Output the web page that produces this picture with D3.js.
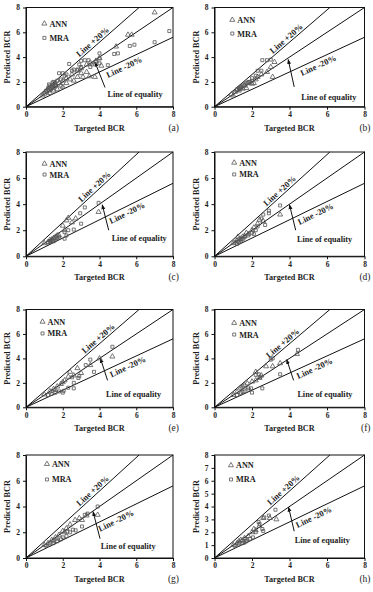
<!DOCTYPE html>
<html>
<head>
<meta charset="utf-8">
<script src="https://cdn.jsdelivr.net/npm/d3@7"></script>
<style>
  body { margin: 0; background: #fff; }
  svg { display: block; }
  text { font-family: "Liberation Serif", "Times New Roman", serif; font-weight: bold; fill: #1c1c1c; }
</style>
</head>
<body>
<div id="chart"></div>
<script>
// ---- data (targeted BCR, predicted BCR) ----
const panelLabels = ["(a)", "(b)", "(c)", "(d)", "(e)", "(f)", "(g)", "(h)"];
const xTicks = [0, 2, 4, 6, 8];
const yTicksEven = [0, 2, 4, 6, 8];
const yTicksAll = [0, 1, 2, 3, 4, 5, 6, 7, 8];
const lineSlopes = [1.3, 1.0, 0.7]; // +20%, equality, -20%
const seriesNames = ["ANN", "MRA"];

const annA = [[7.0,7.6],[5.55,5.8],[5.75,5.8],[4.9,4.85],[4.0,3.9],[3.8,3.7],[3.5,3.55],[3.3,3.4],[3.0,3.1],[2.8,2.9],[2.5,2.6],[2.2,2.3],[2.0,2.1],[1.8,1.9],[1.6,1.7],[1.5,1.6],[1.4,1.5],[1.3,1.4],[1.2,1.3],[1.0,1.05],[0.9,0.9],[2.8,2.4],[3.1,2.4],[3.45,2.45],[3.75,2.4],[3.3,2.8],[2.4,2.2],[2.0,1.6],[1.7,1.4],[1.5,1.3],[1.3,1.1],[2.6,2.1],[4.1,3.3],[1.9,1.7],[1.6,1.8],[2.2,1.9],[3.0,2.7],[1.1,1.2]];
const mraA = [[7.8,6.1],[7.0,5.2],[5.9,5.0],[5.65,4.9],[5.0,4.3],[4.8,4.25],[4.45,3.35],[4.0,4.3],[4.0,3.9],[4.0,3.5],[3.0,3.7],[3.2,3.75],[3.4,3.75],[2.35,3.45],[2.0,2.7],[1.8,2.7],[2.1,2.5],[2.5,2.9],[2.8,3.0],[3.0,3.2],[3.5,3.2],[3.8,3.6],[1.5,2.0],[1.3,1.7],[1.6,1.9],[1.4,1.6],[1.2,1.5],[1.7,2.1],[1.9,2.2],[2.2,2.6],[1.35,1.45],[1.55,1.75],[1.1,1.3],[2.6,3.0],[2.9,3.4],[3.6,3.4],[1.25,1.8],[1.45,1.95]];

const annB = [[0.9,1.0],[1.1,1.2],[1.2,1.35],[1.3,1.3],[1.4,1.5],[1.5,1.45],[1.6,1.7],[1.8,1.9],[2.0,1.85],[2.1,1.9],[2.3,2.4],[2.5,2.6],[2.8,2.8],[3.0,3.2],[3.2,3.6],[3.1,2.4],[1.7,1.5],[2.2,2.2],[1.0,0.9]];
const mraB = [[1.2,1.4],[1.3,1.5],[1.4,1.6],[1.5,1.7],[1.6,1.8],[1.7,1.9],[1.8,2.0],[1.9,2.0],[2.0,2.1],[2.3,2.9],[2.5,2.9],[2.55,3.75],[2.8,3.75],[3.0,3.8],[2.2,2.5],[1.35,1.45],[2.0,2.3]];

const annC = [[1.0,1.0],[1.2,1.1],[1.3,1.25],[1.4,1.3],[1.5,1.4],[1.6,1.5],[1.7,1.6],[1.8,1.6],[2.0,2.35],[2.2,2.75],[2.3,2.95],[2.5,2.6],[2.7,2.9],[3.95,3.4],[1.45,1.15],[2.1,2.0]];
const mraC = [[1.3,1.1],[1.4,1.2],[1.5,1.2],[1.6,1.3],[1.7,1.4],[1.8,1.5],[2.1,1.35],[2.1,1.85],[2.3,2.0],[2.6,2.05],[3.0,2.5],[2.95,3.3],[3.2,3.75],[3.95,4.1],[2.2,1.6],[1.2,1.05]];

const annD = [[1.0,1.0],[1.1,1.05],[1.2,1.2],[1.3,1.3],[1.4,1.35],[1.5,1.5],[1.6,1.55],[1.8,1.7],[2.0,2.0],[2.1,2.2],[2.3,2.5],[2.4,2.8],[2.6,2.7],[3.5,3.2],[1.25,1.5],[1.7,1.8]];
const mraD = [[1.2,0.95],[1.3,1.1],[1.4,1.2],[1.5,1.3],[1.6,1.45],[1.8,1.6],[2.0,1.8],[2.2,2.0],[2.3,2.3],[2.5,2.9],[2.6,3.2],[2.9,3.5],[2.9,3.3],[2.7,2.4],[3.5,3.9],[2.1,1.7]];

const annE = [[1.0,1.05],[1.3,1.3],[1.5,1.5],[1.7,1.7],[1.9,1.9],[2.1,2.2],[2.3,2.5],[2.4,2.9],[2.6,2.6],[2.8,3.2],[3.0,2.8],[3.5,3.45],[4.0,4.0],[4.7,4.15],[1.6,1.4],[2.0,2.05]];
const mraE = [[1.2,1.0],[1.4,1.1],[1.6,1.2],[1.8,1.3],[2.05,1.35],[2.3,1.6],[2.6,1.55],[2.5,2.45],[2.85,2.4],[2.9,2.55],[3.25,3.45],[3.5,3.9],[3.7,2.9],[4.7,4.95],[2.0,1.2],[2.6,2.0]];

const annF = [[1.0,1.0],[1.2,1.25],[1.4,1.6],[1.5,1.7],[1.6,1.8],[1.75,1.95],[2.0,2.1],[2.2,2.9],[2.4,2.4],[2.5,2.6],[2.75,3.35],[3.1,3.35],[3.5,3.6],[4.4,4.35],[1.8,1.6],[2.2,2.2]];
const mraF = [[1.2,1.0],[1.4,1.15],[1.6,1.3],[1.95,1.55],[2.0,1.2],[2.2,2.65],[2.35,2.7],[2.45,2.5],[2.55,1.55],[3.0,3.9],[3.1,4.0],[3.5,2.7],[4.45,4.7],[1.8,1.45],[1.5,1.25]];

const annG = [[1.0,1.0],[1.2,1.15],[1.4,1.4],[1.6,1.6],[1.8,1.8],[2.0,2.1],[2.2,2.3],[2.4,2.6],[2.67,2.95],[2.9,3.1],[3.05,2.95],[3.3,3.3],[3.9,3.35],[1.5,1.3],[1.7,1.5],[2.1,2.0]];
const mraG = [[1.1,0.95],[1.3,1.05],[1.5,1.15],[1.7,1.3],[1.9,1.45],[2.2,1.7],[2.25,2.05],[2.4,2.0],[2.55,2.2],[2.7,2.15],[3.05,2.45],[3.2,3.35],[3.35,3.45],[3.9,4.0],[2.0,1.6]];

const annH = [[1.0,1.0],[1.2,1.15],[1.3,1.3],[1.4,1.4],[1.5,1.35],[1.6,1.55],[1.8,1.7],[2.0,2.0],[2.1,2.25],[2.2,2.15],[2.4,2.5],[2.6,3.1],[2.95,3.1],[3.3,3.0],[1.7,1.45]];
const mraH = [[1.1,0.95],[1.3,1.05],[1.5,1.15],[1.7,1.3],[1.9,1.5],[2.05,1.6],[2.2,2.0],[2.35,2.8],[2.4,2.65],[2.55,2.25],[2.65,3.15],[2.6,2.1],[2.9,3.3],[3.25,3.75],[1.6,1.2]];

const annSets = [annA, annB, annC, annD, annE, annF, annG, annH];
const mraSets = [mraA, mraB, mraC, mraD, mraE, mraF, mraG, mraH];

// ---- layout (pixels / data positions of the annotations) ----
const cols = [{x: 26, w: 147}, {x: 214.5, w: 150}];
const rows = [{y: 7.5, h: 99.2}, {y: 152, h: 104.3}, {y: 309.5, h: 97.8}, {y: 455, h: 103}];
const notes = [
    {plus: 3.8, minus: 5.2, eq: [5.93, 1.0], arrow: [[4.3, 1.55], [3.75, 3.6]], legend: [1.0, 6.7, 5.55]},
    {plus: 4.0, minus: 5.4, eq: [6.1, 0.75], arrow: [[4.25, 1.6], [3.93, 3.8]], legend: [0.95, 7.0, 5.9]},
    {plus: 3.9, minus: 5.35, eq: [6.16, 1.43], arrow: [[4.5, 2.0], [4.15, 3.95]], legend: [1.01, 7.1, 6.27]},
    {plus: 3.65, minus: 5.25, eq: [5.87, 1.36], arrow: [[4.33, 2.0], [4.0, 3.95]], legend: [1.05, 7.18, 6.28]},
    {plus: 4.1, minus: 5.4, eq: [5.85, 1.09], arrow: [[4.44, 2.2], [4.05, 4.0]], legend: [0.9, 7.0, 6.04]},
    {plus: 3.8, minus: 5.2, eq: [5.89, 1.07], arrow: [[4.22, 2.2], [3.85, 3.9]], legend: [1.05, 6.9, 5.95]},
    {plus: 3.8, minus: 4.75, eq: [5.56, 0.95], arrow: [[4.03, 1.5], [3.65, 3.6]], legend: [1.14, 7.3, 6.1]},
    {plus: 3.85, minus: 5.15, eq: [5.75, 1.43], arrow: [[4.25, 2.08], [3.95, 3.95]], legend: [0.88, 7.2, 6.1]}
];

class ScatterPanel {
    constructor(_config, _ann, _mra) {
        this.config = {
            svg: _config.svg,
            left: _config.left,
            top: _config.top,
            width: _config.width,
            height: _config.height,
            label: _config.label,
            yTicks: _config.yTicks,
            note: _config.note
        };
        this.ann = _ann;
        this.mra = _mra;

        this.initVis();
        this.renderVis();
    }

    initVis() {
        let vis = this;
        const c = vis.config;

        vis.g = c.svg.append('g')
            .attr('transform', `translate(${c.left},${c.top})`);

        vis.xScale = d3.scaleLinear().domain([0, 8]).range([0, c.width]);
        vis.yScale = d3.scaleLinear().domain([0, 8]).range([c.height, 0]);

        vis.xAxis = d3.axisBottom(vis.xScale).tickValues(xTicks).tickSize(3).tickSizeOuter(0).tickPadding(2);
        vis.yAxis = d3.axisLeft(vis.yScale).tickValues(c.yTicks).tickSize(3).tickSizeOuter(0).tickPadding(3);

        vis.g.append('g')
            .attr('class', 'axis x-axis')
            .attr('transform', `translate(0,${c.height})`)
            .call(vis.xAxis);
        vis.g.append('g')
            .attr('class', 'axis y-axis')
            .call(vis.yAxis);

        vis.g.selectAll('.axis text').attr('font-size', 7.5).style('font-family', null);
        vis.g.selectAll('.axis path, .axis line').attr('stroke', '#111');

        // frame
        vis.g.append('rect')
            .attr('width', c.width)
            .attr('height', c.height)
            .attr('fill', 'none')
            .attr('stroke', '#111')
            .attr('stroke-width', 1);

        vis.g.append('text')
            .attr('text-anchor', 'middle')
            .attr('x', c.width / 2)
            .attr('y', c.height + 24)
            .attr('font-size', 8.2)
            .text('Targeted BCR');

        vis.g.append('text')
            .attr('text-anchor', 'middle')
            .attr('transform', `translate(-16,${c.height / 2}) rotate(-90)`)
            .attr('font-size', 8.2)
            .text('Predicted BCR');

        vis.g.append('text')
            .attr('text-anchor', 'end')
            .attr('x', c.width + 6)
            .attr('y', c.height + 24)
            .attr('font-size', 9.5)
            .attr('font-weight', 'normal')
            .style('font-weight', 'normal')
            .text(c.label);
    }

    renderVis() {
        let vis = this;
        const c = vis.config;
        const x = vis.xScale, y = vis.yScale;

        // reference lines, clipped to the 0-8 box
        vis.g.selectAll('.ref')
            .data(lineSlopes)
            .join('line')
            .attr('class', 'ref')
            .attr('x1', x(0)).attr('y1', y(0))
            .attr('x2', s => x(Math.min(8, 8 / s)))
            .attr('y2', s => y(Math.min(8, 8 / s) * s))
            .attr('stroke', '#111')
            .attr('stroke-width', 1);

        const angle = s => -Math.atan2(y(0) - y(s), x(1) - x(0)) * 180 / Math.PI;

        vis.g.append('text')
            .attr('text-anchor', 'middle')
            .attr('font-size', 8.5)
            .attr('dy', -2)
            .attr('transform', `translate(${x(c.note.plus)},${y(c.note.plus * lineSlopes[0])}) rotate(${angle(lineSlopes[0])})`)
            .text('Line +20%');

        vis.g.append('text')
            .attr('text-anchor', 'middle')
            .attr('font-size', 8.5)
            .attr('dy', 9)
            .attr('transform', `translate(${x(c.note.minus)},${y(c.note.minus * lineSlopes[2])}) rotate(${angle(lineSlopes[2])})`)
            .text('Line -20%');

        vis.g.append('text')
            .attr('text-anchor', 'middle')
            .attr('font-size', 8.2)
            .attr('x', x(c.note.eq[0]))
            .attr('y', y(c.note.eq[1]) + 3)
            .text('Line of equality');

        const a = c.note.arrow;
        vis.g.append('line')
            .attr('x1', x(a[0][0])).attr('y1', y(a[0][1]))
            .attr('x2', x(a[1][0])).attr('y2', y(a[1][1]))
            .attr('stroke', '#111')
            .attr('stroke-width', 1)
            .attr('marker-end', 'url(#arrowhead)');

        const tri = d3.symbol().type(d3.symbolTriangle).size(11);
        const sq = d3.symbol().type(d3.symbolSquare).size(9);

        vis.g.append('g')
            .selectAll('path')
            .data(vis.mra)
            .join('path')
            .attr('d', sq)
            .attr('transform', d => `translate(${x(d[0])},${y(d[1])})`)
            .attr('fill', 'none')
            .attr('stroke', '#555')
            .attr('stroke-width', 0.8);

        vis.g.append('g')
            .selectAll('path')
            .data(vis.ann)
            .join('path')
            .attr('d', tri)
            .attr('transform', d => `translate(${x(d[0])},${y(d[1])})`)
            .attr('fill', 'none')
            .attr('stroke', '#555')
            .attr('stroke-width', 0.8);

        // legend
        const lg = c.note.legend;
        const legend = vis.g.append('g');
        legend.selectAll('path')
            .data(seriesNames)
            .join('path')
            .attr('d', (d, i) => i === 0 ? tri() : sq())
            .attr('transform', (d, i) => `translate(${x(lg[0])},${y(lg[i + 1])})`)
            .attr('fill', 'none')
            .attr('stroke', '#555')
            .attr('stroke-width', 0.8);
        legend.selectAll('text')
            .data(seriesNames)
            .join('text')
            .attr('x', x(lg[0]) + 5)
            .attr('y', (d, i) => y(lg[i + 1]) + 3)
            .attr('font-size', 8.2)
            .text(d => d);
    }
}

const svg = d3.select('#chart')
    .append('svg')
    .attr('width', 373)
    .attr('height', 592);

svg.append('defs').append('marker')
    .attr('id', 'arrowhead')
    .attr('viewBox', '0 0 10 10')
    .attr('refX', 9).attr('refY', 5)
    .attr('markerWidth', 5).attr('markerHeight', 5)
    .attr('orient', 'auto')
    .append('path')
    .attr('d', 'M0,1 L10,5 L0,9 Z')
    .attr('fill', '#111');

panelLabels.forEach((label, i) => {
    const col = cols[i % 2], row = rows[Math.floor(i / 2)];
    new ScatterPanel({
        svg: svg,
        left: col.x,
        top: row.y,
        width: col.w,
        height: row.h,
        label: label,
        yTicks: i === 7 ? yTicksAll : yTicksEven,
        note: notes[i]
    }, annSets[i], mraSets[i]);
});
</script>
</body>
</html>
